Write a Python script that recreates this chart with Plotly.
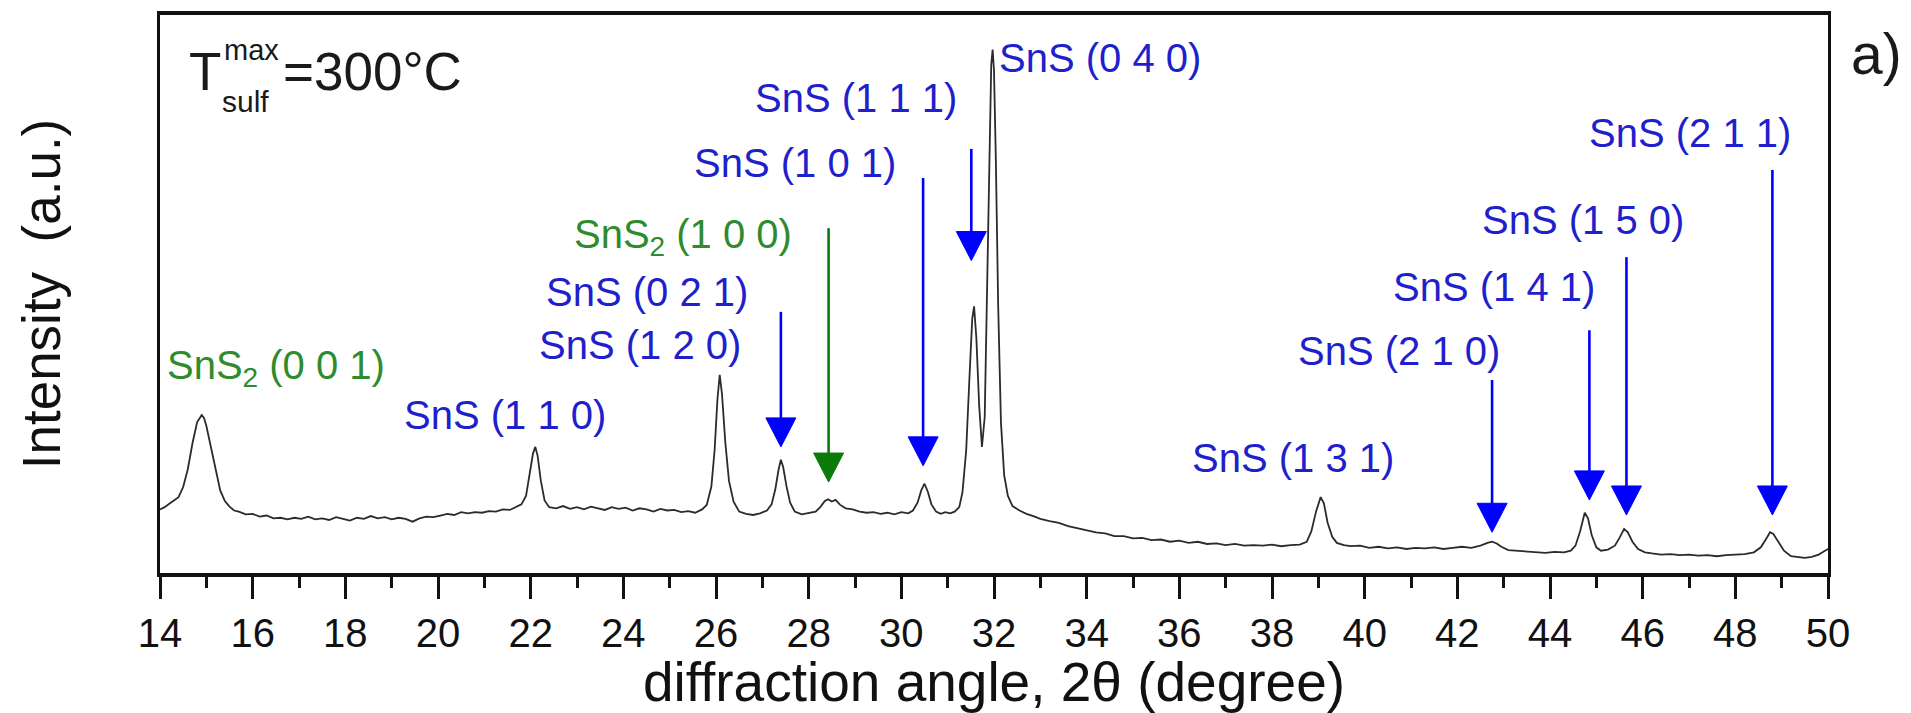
import plotly.graph_objects as go

# XRD scan: diffraction angle 2-theta (degree) and intensity (a.u.)
two_theta = [
    14.00, 14.10, 14.20, 14.30, 14.40, 14.50, 14.60, 14.70, 14.80, 14.90, 14.95, 15.00,
    15.10, 15.20, 15.30, 15.40, 15.50, 15.60, 15.70, 15.85, 16.00, 16.15, 16.30, 16.45,
    16.60, 16.75, 16.90, 17.05, 17.20, 17.35, 17.50, 17.65, 17.80, 17.95, 18.10, 18.25,
    18.40, 18.55, 18.70, 18.85, 19.00, 19.15, 19.30, 19.45, 19.60, 19.75, 19.90, 20.05,
    20.20, 20.35, 20.50, 20.65, 20.80, 20.95, 21.10, 21.25, 21.40, 21.55, 21.70, 21.80,
    21.90, 21.98, 22.05, 22.10, 22.15, 22.22, 22.30, 22.40, 22.55, 22.70, 22.85, 23.00,
    23.15, 23.30, 23.45, 23.60, 23.75, 23.90, 24.05, 24.20, 24.35, 24.50, 24.65, 24.80,
    24.95, 25.10, 25.25, 25.40, 25.55, 25.70, 25.80, 25.90, 25.97, 26.03, 26.08, 26.13,
    26.20, 26.28, 26.38, 26.50, 26.65, 26.80, 26.95, 27.10, 27.20, 27.28, 27.35, 27.40,
    27.45, 27.52, 27.60, 27.70, 27.85, 28.00, 28.15, 28.25, 28.35, 28.42, 28.50, 28.58,
    28.68, 28.80, 28.95, 29.10, 29.25, 29.40, 29.55, 29.70, 29.85, 30.00, 30.15, 30.25,
    30.35, 30.43, 30.50, 30.57, 30.65, 30.75, 30.85, 30.95, 31.05, 31.15, 31.25, 31.32,
    31.40, 31.47, 31.53, 31.57, 31.62, 31.68, 31.74, 31.80, 31.85, 31.90, 31.94, 31.97,
    32.00, 32.04, 32.09, 32.15, 32.22, 32.30, 32.40, 32.55, 32.70, 32.85, 33.00, 33.20,
    33.40, 33.60, 33.80, 34.00, 34.20, 34.40, 34.60, 34.80, 35.00, 35.20, 35.40, 35.60,
    35.80, 36.00, 36.20, 36.40, 36.60, 36.80, 37.00, 37.20, 37.40, 37.60, 37.80, 38.00,
    38.20, 38.40, 38.60, 38.75, 38.85, 38.95, 39.05, 39.12, 39.20, 39.30, 39.40, 39.55,
    39.70, 39.90, 40.10, 40.30, 40.50, 40.70, 40.90, 41.10, 41.30, 41.50, 41.70, 41.90,
    42.10, 42.30, 42.50, 42.65, 42.75, 42.85, 42.95, 43.10, 43.30, 43.50, 43.70, 43.90,
    44.10, 44.30, 44.45, 44.55, 44.65, 44.75, 44.82, 44.90, 45.00, 45.10, 45.25, 45.40,
    45.50, 45.60, 45.68, 45.78, 45.90, 46.05, 46.20, 46.40, 46.60, 46.80, 47.00, 47.20,
    47.40, 47.60, 47.80, 48.00, 48.20, 48.40, 48.55, 48.65, 48.75, 48.82, 48.92, 49.05,
    49.20, 49.35, 49.50, 49.65, 49.80, 49.90, 50.00,
]
intensity = [
    11.4, 11.8, 12.4, 13.0, 13.6, 15.4, 18.6, 23.2, 27.0, 28.3, 27.8, 26.4,
    22.6, 18.2, 14.8, 12.9, 11.9, 11.2, 11.0, 10.5, 10.6, 10.1, 10.3, 9.8,
    9.9, 9.6, 9.9, 9.7, 10.1, 9.6, 9.8, 9.5, 10.0, 9.7, 9.4, 9.9,
    9.7, 10.2, 9.8, 10.0, 9.6, 9.9, 9.7, 9.2, 9.8, 10.1, 10.0, 10.3,
    10.6, 10.4, 10.9, 10.7, 10.9, 10.8, 11.1, 11.0, 11.4, 11.3, 11.9, 12.3,
    13.8, 17.5, 21.4, 22.6, 21.0, 16.5, 13.0, 11.8, 11.6, 12.0, 11.5, 11.8,
    11.4, 11.9, 11.6, 11.3, 11.8, 11.5, 11.7, 11.2, 11.6, 11.4, 11.0, 11.5,
    11.2, 11.3, 10.9, 11.1, 10.8, 11.4, 12.2, 15.5, 22.0, 31.0, 35.5, 32.0,
    23.5, 16.5, 12.8, 11.0, 10.6, 10.4, 10.7, 11.2, 12.3, 15.0, 18.5, 20.3,
    19.0, 15.6, 12.6, 11.0, 10.5, 10.7, 11.0, 11.8, 12.9, 13.2, 12.8, 13.1,
    12.2, 11.6, 11.4, 11.0, 10.8, 10.9, 10.6, 10.8, 10.5, 10.9, 10.7, 11.2,
    12.6, 14.8, 16.0, 14.6, 12.3, 11.0, 10.6, 10.9, 10.7, 11.0, 11.8, 14.5,
    22.0, 35.0, 45.5, 47.8, 42.0, 30.0, 22.6, 28.0, 50.0, 78.0, 91.0, 93.8,
    90.0, 74.0, 48.0, 27.0, 17.5, 13.8, 12.0, 11.2, 10.6, 10.2, 9.7, 9.3,
    9.0, 8.4, 8.0, 7.6, 7.3, 7.1, 6.6, 6.6, 6.2, 6.3, 5.9, 6.0,
    5.6, 5.8, 5.4, 5.6, 5.2, 5.3, 5.0, 5.2, 4.9, 5.0, 4.9, 5.1,
    4.8, 5.0, 5.1, 5.6, 7.5, 11.0, 13.6, 12.5, 9.0, 6.5, 5.4, 5.0,
    4.8, 4.9, 4.5, 4.7, 4.4, 4.6, 4.3, 4.5, 4.4, 4.6, 4.3, 4.5,
    4.7, 4.5, 4.9, 5.4, 5.6, 5.3, 4.7, 4.1, 4.0, 3.8, 3.7, 3.6,
    3.8, 3.7, 4.0, 4.9, 7.5, 10.8, 9.8, 6.8, 4.6, 4.0, 4.2, 4.9,
    6.3, 7.9, 7.3, 5.6, 4.3, 3.7, 3.5, 3.3, 3.4, 3.2, 3.3, 3.1,
    3.2, 3.0, 3.2, 3.3, 3.4, 3.7, 4.6, 5.9, 7.3, 7.0, 5.6, 4.0,
    3.0, 2.8, 2.7, 2.9, 3.3, 3.8, 4.3,
]

# Reflection labels: text, phase, label centre (2-theta, intensity)
label_text = [
    "SnS<sub>2</sub> (0 0 1)", "SnS (1 1 0)", "SnS (1 2 0)", "SnS (0 2 1)",
    "SnS<sub>2</sub> (1 0 0)", "SnS (1 0 1)", "SnS (1 1 1)", "SnS (0 4 0)",
    "SnS (1 3 1)", "SnS (2 1 0)", "SnS (1 4 1)", "SnS (1 5 0)", "SnS (2 1 1)",
]
label_phase = ["SnS2", "SnS", "SnS", "SnS", "SnS2", "SnS", "SnS", "SnS",
               "SnS", "SnS", "SnS", "SnS", "SnS"]
label_x = [16.50, 21.45, 24.37, 24.52, 25.29, 27.70, 29.03, 34.29,
           38.45, 40.74, 42.80, 44.71, 47.03]
label_y = [36.7, 28.3, 40.9, 50.4, 60.2, 73.5, 85.1, 92.3,
           20.6, 39.8, 51.3, 63.3, 78.9]

# Marker arrows: peak position, arrow start and tip (intensity), phase
arrow_x = [27.40, 28.43, 30.47, 31.51, 42.75, 44.85, 45.65, 48.80]
arrow_from = [46.8, 61.8, 70.8, 76.0, 34.6, 43.5, 56.6, 72.2]
arrow_to = [22.6, 16.3, 19.2, 56.0, 7.3, 13.1, 10.4, 10.4]
arrow_phase = ["SnS", "SnS2", "SnS", "SnS", "SnS", "SnS", "SnS", "SnS"]

text_color = {"SnS": "#1f1fcc", "SnS2": "#2e8b2e"}
arrow_color = {"SnS": "#0000ff", "SnS2": "#0b7a0b"}

FONT = "Liberation Sans, Arial, Helvetica, sans-serif"

# Plot-area geometry (px) and axis ranges
W, H = 1911, 713
ML, MR, MT, MB = 160, 83, 15, 140
X_RANGE = [14, 50]
Y_RANGE = [0, 100]
plot_w = W - ML - MR
plot_h = H - MT - MB
x_per_px = (X_RANGE[1] - X_RANGE[0]) / plot_w
y_per_px = (Y_RANGE[1] - Y_RANGE[0]) / plot_h

# arrowhead size in pixels, converted to data units
HEAD_W_PX, HEAD_H_PX = 30, 29
head_half_w = HEAD_W_PX / 2 * x_per_px
head_h = HEAD_H_PX * y_per_px

fig = go.Figure()
fig.add_trace(go.Scatter(
    x=two_theta, y=intensity, mode="lines",
    line=dict(color="#2b2b2b", width=1.8),
    showlegend=False, hoverinfo="skip",
))

shapes = []
for xa, y0, y1, ph in zip(arrow_x, arrow_from, arrow_to, arrow_phase):
    c = arrow_color[ph]
    shapes.append(dict(
        type="line", xref="x", yref="y",
        x0=xa, x1=xa, y0=y0, y1=y1 + head_h * 0.6,
        line=dict(color=c, width=2.6),
    ))
    shapes.append(dict(
        type="path", xref="x", yref="y",
        path=(f"M {xa - head_half_w},{y1 + head_h} "
              f"L {xa + head_half_w},{y1 + head_h} L {xa},{y1} Z"),
        fillcolor=c, line=dict(color=c, width=1),
    ))

annotations = []
for t, ph, lx, ly in zip(label_text, label_phase, label_x, label_y):
    annotations.append(dict(
        x=lx, y=ly, xref="x", yref="y", text=t, showarrow=False,
        xanchor="center", yanchor="middle",
        font=dict(family=FONT, size=40, color=text_color[ph]),
    ))

# Sulfurisation temperature label, T with stacked super/subscript
def px(xp):
    return (xp - ML) / plot_w
def py(yp):
    return (H - MB - yp) / plot_h

temp_parts = [
    ("T", 187, 71.5, 53),
    ("max", 222, 50.0, 29),
    ("sulf", 220, 101.5, 30),
    ("=300°C", 281, 71.5, 53),
]
for t, xp, yp, fs in temp_parts:
    annotations.append(dict(
        x=px(xp), y=py(yp), xref="paper", yref="paper", text=t,
        showarrow=False, xanchor="left", yanchor="middle",
        font=dict(family=FONT, size=fs, color="#1a1a1a"),
    ))

annotations.append(dict(
    x=px(1876), y=py(54), xref="paper", yref="paper", text="a)",
    showarrow=False, xanchor="center", yanchor="middle",
    font=dict(family=FONT, size=57, color="#1a1a1a"),
))

fig.update_layout(
    width=W, height=H,
    margin=dict(l=ML, r=MR, t=MT, b=MB, autoexpand=False),
    paper_bgcolor="white", plot_bgcolor="white",
    annotations=annotations, shapes=shapes,
    font=dict(family=FONT, color="#111111"),
    xaxis=dict(
        range=X_RANGE, tickmode="array", tickvals=list(range(14, 51, 2)),
        ticktext=[str(v) for v in range(14, 51, 2)],
        ticks="outside", ticklen=22, tickwidth=3, tickcolor="#111111",
        minor=dict(tickmode="array", tickvals=list(range(15, 50, 2)),
                   ticks="outside", ticklen=11, tickwidth=3, tickcolor="#111111"),
        showline=True, linewidth=3.5, linecolor="#111111", mirror=True,
        showgrid=False, zeroline=False,
        tickfont=dict(family=FONT, size=40, color="#111111"),
        title=dict(text="diffraction angle, 2θ (degree)",
                   font=dict(family=FONT, size=55, color="#111111"), standoff=0),
    ),
    yaxis=dict(
        range=Y_RANGE, showticklabels=False, ticks="",
        showline=True, linewidth=2.5, linecolor="#111111", mirror=True,
        showgrid=False, zeroline=False,
        title=dict(text="Intensity  (a.u.)",
                   font=dict(family=FONT, size=53, color="#111111"), standoff=80),
    ),
)

fig.write_html("out.html")
